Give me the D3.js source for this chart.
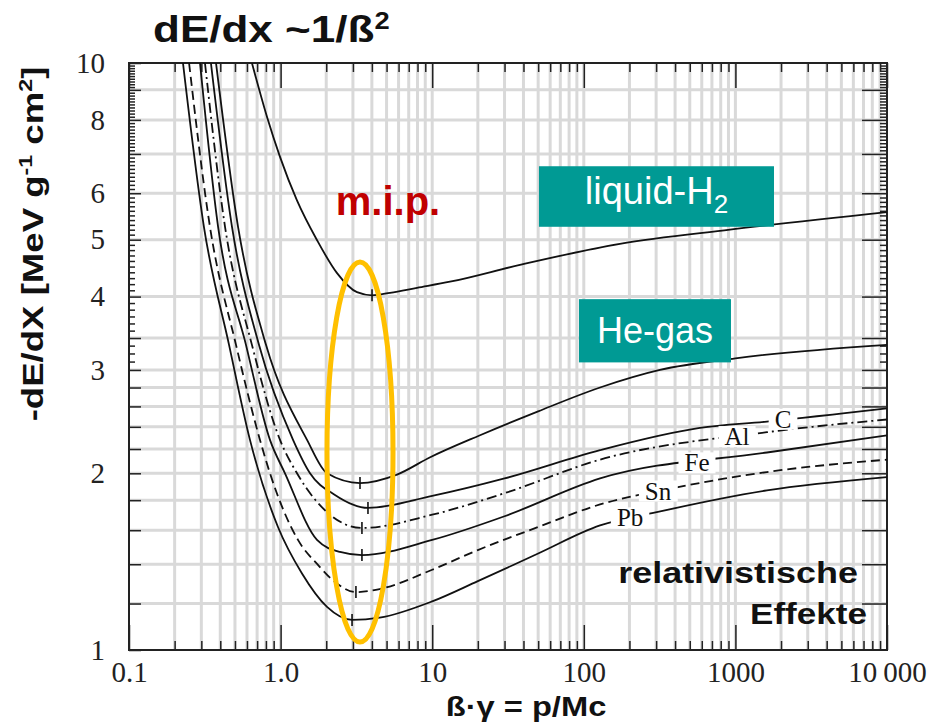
<!DOCTYPE html>
<html>
<head>
<meta charset="utf-8">
<script src="https://cdn.jsdelivr.net/npm/d3@7/dist/d3.min.js"></script>
<style>
    body{ margin:0; background:#fff; }
    svg{ display:block; }
    .grid line{ stroke:#d9d9d9; stroke-width:3px; }
    .curve{ fill:none; stroke:#111; stroke-width:1.8px; }
    .mip-tick{ stroke:#111; stroke-width:1.6px; }
    .axis line{ stroke:#222; stroke-width:1.5px; }
    .axis text{ font-family:"Liberation Serif","Times New Roman",serif; font-size:29px; fill:#222; }
    .bold{ font-family:"Liberation Sans",Arial,sans-serif; font-weight:bold; fill:#111; }
    .clabel{ font-family:"Liberation Serif","Times New Roman",serif; font-size:25px; fill:#111; }
</style>
</head>
<body>
<svg id="chart" width="939" height="722"></svg>
<script>
// ---- data (beta*gamma , -dE/dx in MeV g^-1 cm^2) ----
var xTickValues = [0.1, 1, 10, 100, 1000, 10000];
var xTickLabels = ["0.1", "1.0", "10", "100", "1000", "10\u2009000"];
var yTickValues = [1, 2, 3, 4, 5, 6, 8, 10];
var yGridValues = [1.2, 1.4, 1.6, 1.8, 2, 2.2, 2.4, 2.6, 2.8, 3, 3.4, 4, 5, 6, 7, 8, 9];

var h2Curve = [[0.647,10],[0.813,8.1],[0.991,6.92],[1.28,5.84],[1.74,4.99],[2.35,4.39],[3.19,4.07],
    [4.01,4.02],[5.27,4.06],[7.94,4.14],[13.1,4.24],[37.9,4.53],[173,4.92],[921,5.2],[10000,5.57]];
var heCurve = [[0.375,10],[0.524,5.26],[0.801,3.31],[1.494,2.28],[2.024,2.0],[3.34,1.925],[5.86,1.99],
    [9.7,2.13],[20.5,2.32],[50,2.55],[128,2.8],[318,3.0],[1000,3.14],[10000,3.31]];
var cCurve = [[0.347,10],[0.478,5.26],[0.72,3.31],[1.208,2.28],[1.563,2.0],[2.284,1.837],[3.77,1.746],
    [10,1.83],[30,1.96],[128,2.19],[583,2.39],[1614,2.45],[10000,2.58]];
var alCurve = [[0.317,10],[0.43,5.26],[0.647,3.31],[0.991,2.28],[1.283,2.0],[2.118,1.7],[3.44,1.614],
    [10,1.7],[30,1.85],[128,2.11],[1614,2.35],[10000,2.47]];
var feCurve = [[0.294,10],[0.387,5.26],[0.591,3.31],[0.851,2.28],[1.069,2.0],[1.738,1.54],[2.465,1.469],
    [3.44,1.451],[10,1.54],[30,1.69],[128,1.96],[1614,2.17],[10000,2.32]];
var snCurve = [[0.249,10],[0.342,5.26],[0.508,3.31],[0.731,2.28],[0.851,2.0],[1.302,1.54],[1.765,1.396],
    [2.284,1.306],[3.14,1.255],[4.5,1.27],[10,1.37],[20,1.48],[50,1.62],[128,1.77],[400,1.89],[1614,2.01],[10000,2.11]];
var pbCurve = [[0.227,10],[0.312,5.26],[0.457,3.31],[0.628,2.28],[0.961,1.62],[1.384,1.35],[2.024,1.184],
    [2.96,1.125],[4.5,1.135],[10,1.21],[20,1.31],[50,1.46],[128,1.63],[282,1.71],[1614,1.87],[10000,1.97]];

// minimum ionisation points (tick marks on each curve)
var mipX = [4.01, 3.34, 3.77, 3.44, 3.44, 3.14, 2.96];
var mipY = [4.02, 1.925, 1.746, 1.614, 1.451, 1.255, 1.125];

var seriesNames = ["H2", "He", "C", "Al", "Fe", "Sn", "Pb"];
var seriesData = [h2Curve, heCurve, cCurve, alCurve, feCurve, snCurve, pbCurve];

// element labels sitting on the curves, at these beta*gamma values
var labelNames = ["C", "Al", "Fe", "Sn", "Pb"];
var labelAt = [2061, 1025, 558, 309, 202];

// annotations
var mipEllipseX = 3.34;
var mipEllipseRange = [1.032, 4.58];
var boxTexts = ["liquid-H", "He-gas"];
var boxX = [[50.6, 1797], [92.9, 935]];
var boxY = [[5.26, 6.67], [3.09, 3.96]];

// ---- layout ----
var dashFor = { Al: "10,4,2,4", Sn: "9,5" };
var svg = d3.select("#chart");
var x = d3.scaleLog().domain([0.1, 10000]).range([129, 887]);
var y = d3.scaleLog().domain([1, 10]).range([650, 63]);
var X0 = x.range()[0], X1 = x.range()[1], Y0 = y.range()[1], Y1 = y.range()[0];

function noDomain(g){ g.select(".domain").remove(); }

// stretched text (the original lettering is wider than Arial)
function wideText(px, py, sx, anchor, size, rot){
    return svg.append("text")
        .attr("class", "bold")
        .attr("transform", "translate(" + px + "," + py + ")" + (rot ? " rotate(" + rot + ")" : "") + " scale(" + sx + ",1)")
        .attr("text-anchor", anchor)
        .style("font-size", size + "px");
}

// gridlines
var grid = svg.append("g").attr("class", "grid");
grid.selectAll(".gx")
    .data(x.ticks().filter(function(v){ return v > 0.1 && v < 10000; }))
    .enter().append("line")
        .attr("x1", function(d){ return x(d); }).attr("x2", function(d){ return x(d); })
        .attr("y1", Y0).attr("y2", Y1);
grid.selectAll(".gy")
    .data(yGridValues)
    .enter().append("line")
        .attr("y1", function(d){ return y(d); }).attr("y2", function(d){ return y(d); })
        .attr("x1", X0).attr("x2", X1);

// minor tick values
var xMinor = x.ticks().filter(function(v){ return xTickValues.indexOf(v) < 0; });
var yMinor = [];
for (var i = 31; i < 100; i++){
    if (i % 10 != 0 && i != 34) yMinor.push(i / 10);
}
var yMajorLeft = yGridValues.concat([1, 10]);

// bottom axis
svg.append("g").attr("class", "axis").attr("transform", "translate(0," + Y1 + ")")
    .call(d3.axisBottom(x).tickValues(xTickValues).tickSize(-25).tickPadding(11)
        .tickFormat(function(d, i){ return xTickLabels[i]; }))
    .call(noDomain);
svg.append("g").attr("class", "axis").attr("transform", "translate(0," + Y1 + ")")
    .call(d3.axisBottom(x).tickValues(xMinor).tickSize(-9).tickFormat(""))
    .call(noDomain);
// top axis
svg.append("g").attr("class", "axis").attr("transform", "translate(0," + Y0 + ")")
    .call(d3.axisTop(x).tickValues(xTickValues).tickSize(-25).tickFormat(""))
    .call(noDomain);
svg.append("g").attr("class", "axis").attr("transform", "translate(0," + Y0 + ")")
    .call(d3.axisTop(x).tickValues(xMinor).tickSize(-9).tickFormat(""))
    .call(noDomain);
// left axis
svg.append("g").attr("class", "axis").attr("transform", "translate(" + X0 + ",0)")
    .call(d3.axisLeft(y).tickValues(yMajorLeft).tickSize(-12).tickPadding(24)
        .tickFormat(function(d){ return yTickValues.indexOf(d) >= 0 ? d : ""; }))
    .call(noDomain);
svg.append("g").attr("class", "axis").attr("transform", "translate(" + X0 + ",0)")
    .call(d3.axisLeft(y).tickValues(yMinor).tickSize(-6).tickFormat(""))
    .call(noDomain);
// right axis
svg.append("g").attr("class", "axis").attr("transform", "translate(" + X1 + ",0)")
    .call(d3.axisRight(y).tickValues(yGridValues).tickSize(-25).tickFormat(""))
    .call(noDomain);
svg.append("g").attr("class", "axis").attr("transform", "translate(" + X1 + ",0)")
    .call(d3.axisRight(y).tickValues(yMinor).tickSize(-7).tickFormat(""))
    .call(noDomain);

// frame
svg.append("rect")
    .attr("x", X0).attr("y", Y0).attr("width", X1 - X0).attr("height", Y1 - Y0)
    .attr("fill", "none").attr("stroke", "#222").attr("stroke-width", 2);

// curves
svg.append("clipPath").attr("id", "plot-clip")
    .append("rect").attr("x", X0).attr("y", Y0).attr("width", X1 - X0).attr("height", Y1 - Y0);

var line = d3.line()
    .x(function(d){ return x(d[0]); })
    .y(function(d){ return y(d[1]); })
    .curve(d3.curveMonotoneX);

var curves = svg.append("g").attr("clip-path", "url(#plot-clip)");
curves.selectAll("path")
    .data(seriesData)
    .enter().append("path")
        .attr("class", "curve")
        .attr("d", line)
        .attr("stroke-dasharray", function(d, i){ return dashFor[seriesNames[i]] || null; });

curves.selectAll(".mip-tick")
    .data(mipX)
    .enter().append("line")
        .attr("class", "mip-tick")
        .attr("x1", function(d){ return x(d); }).attr("x2", function(d){ return x(d); })
        .attr("y1", function(d, i){ return y(mipY[i]) - 6; })
        .attr("y2", function(d, i){ return y(mipY[i]) + 6; });

// value of a series at bg, log-linear between read points
function valueAt(data, bg){
    for (var k = 1; k < data.length; k++){
        if (bg <= data[k][0]){
            var t = Math.log(bg / data[k-1][0]) / Math.log(data[k][0] / data[k-1][0]);
            return Math.exp(Math.log(data[k-1][1]) + t * Math.log(data[k][1] / data[k-1][1]));
        }
    }
    return data[data.length - 1][1];
}

// element labels with white background cutting the line
labelNames.forEach(function(name, i){
    var data = seriesData[seriesNames.indexOf(name)];
    var px = x(labelAt[i]), py = y(valueAt(data, labelAt[i]));
    var g = svg.append("g");
    var t = g.append("text")
        .attr("class", "clabel")
        .attr("x", px).attr("y", py + 8)
        .attr("text-anchor", "middle")
        .text(name);
    var bb = t.node().getBBox();
    g.insert("rect", "text")
        .attr("x", bb.x - 6).attr("y", bb.y + 3)
        .attr("width", bb.width + 12).attr("height", bb.height - 6)
        .attr("fill", "#fff");
});

// m.i.p. ellipse
var ey0 = y(mipEllipseRange[1]), ey1 = y(mipEllipseRange[0]);
svg.append("ellipse")
    .attr("cx", x(mipEllipseX)).attr("cy", (ey0 + ey1) / 2)
    .attr("rx", 33).attr("ry", (ey1 - ey0) / 2)
    .attr("fill", "none").attr("stroke", "#ffc000").attr("stroke-width", 5);

svg.append("text")
    .attr("class", "bold")
    .attr("x", x(5.11)).attr("y", y(5.51))
    .attr("text-anchor", "middle")
    .style("font-size", "40px").style("fill", "#c00000")
    .text("m.i.p.");

// teal boxes
boxTexts.forEach(function(txt, i){
    var bx0 = x(boxX[i][0]), bx1 = x(boxX[i][1]);
    var by0 = y(boxY[i][1]), by1 = y(boxY[i][0]);
    svg.append("rect")
        .attr("x", bx0).attr("y", by0).attr("width", bx1 - bx0).attr("height", by1 - by0)
        .attr("fill", "#009a94");
    var t = svg.append("text")
        .attr("x", (bx0 + bx1) / 2).attr("y", (by0 + by1) / 2 + (i == 0 ? 7 : 12))
        .attr("text-anchor", "middle")
        .style("font-family", "'Liberation Sans',Arial,sans-serif")
        .style("font-size", (i == 0 ? 38 : 36) + "px")
        .style("fill", "#fff")
        .text(txt);
    if (i == 0){
        t.append("tspan").attr("dy", 9).style("font-size", "26px").text("2");
    }
});

// title and axis titles
var title = wideText(153, 42, 1.19, "start", 37).text("dE/dx ~1/\u00df");
title.append("tspan").attr("dy", -13).style("font-size", "23px").text("2");

var yl = wideText(43, 244, 1.22, "middle", 30, -90).text("-dE/dX [MeV g");
yl.append("tspan").attr("dy", -11).style("font-size", "19px").text("-1");
yl.append("tspan").attr("dy", 11).text(" cm");
yl.append("tspan").attr("dy", -11).style("font-size", "19px").text("2");
yl.append("tspan").attr("dy", 11).text("]");

wideText(526, 716, 1.21, "middle", 27).text("\u00df\u00b7\u03b3 = p/Mc");

wideText(858, 583, 1.24, "end", 29).text("relativistische");
wideText(867, 624, 1.21, "end", 29).text("Effekte");
</script>
</body>
</html>
